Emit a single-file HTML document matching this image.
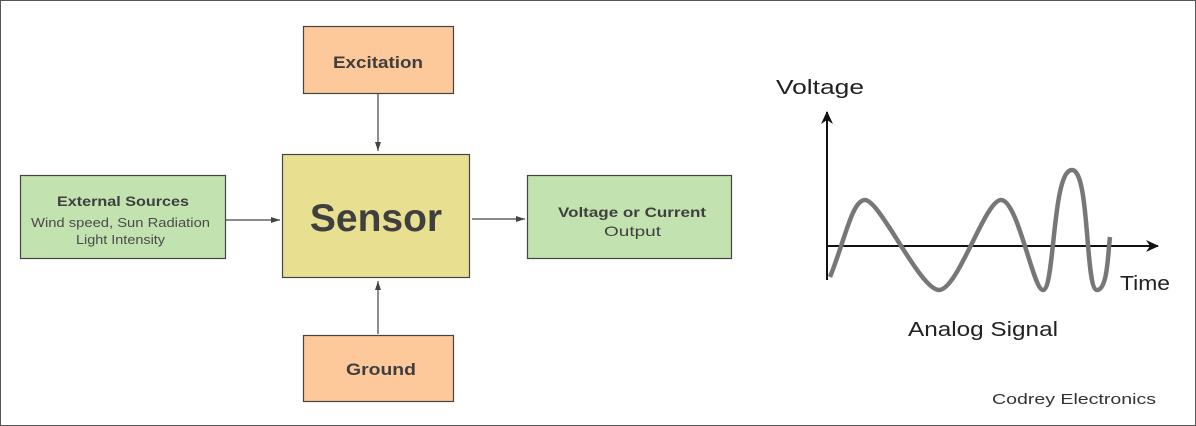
<!DOCTYPE html>
<html><head><style>
html,body{margin:0;padding:0;background:#fff}
svg{display:block}
text{font-family:"Liberation Sans",sans-serif;fill:#3f3f3f}
</style></head><body>
<svg width="1196" height="426" viewBox="0 0 1196 426">
<defs><marker id="a" markerWidth="10" markerHeight="8" refX="9" refY="4" orient="auto" markerUnits="userSpaceOnUse"><path d="M0,1 L9,4 L0,7 z" fill="#444"/></marker>
<marker id="b" markerWidth="14" markerHeight="14" refX="12" refY="7" orient="auto" markerUnits="userSpaceOnUse"><path d="M0,1 L13,7 L0,13 L4,7 z" fill="#111"/></marker></defs>
<rect x="0.5" y="0.5" width="1195" height="425" fill="#fff" stroke="#555"/>
<g stroke="#444" stroke-width="1.2">
<rect x="303.5" y="26.5" width="150" height="67" fill="#fdc99a"/>
<rect x="303.5" y="335.5" width="150" height="66" fill="#fdc99a"/>
<rect x="282.5" y="154.5" width="187" height="123" fill="#e8df91"/>
<rect x="20.5" y="175.5" width="205" height="83" fill="#c2e3b0"/>
<rect x="527.5" y="175.5" width="204" height="83" fill="#c2e3b0"/>
<line x1="378" y1="94" x2="378" y2="151" marker-end="url(#a)"/>
<line x1="378" y1="334" x2="378" y2="281" marker-end="url(#a)"/>
<line x1="226" y1="220" x2="280" y2="220" marker-end="url(#a)"/>
<line x1="472" y1="219" x2="525" y2="219" marker-end="url(#a)"/>
</g>
<text x="333" y="68" font-size="17" font-weight="bold" textLength="90" lengthAdjust="spacingAndGlyphs">Excitation</text>
<text x="346" y="375" font-size="17" font-weight="bold" textLength="70" lengthAdjust="spacingAndGlyphs">Ground</text>
<text x="376" y="231" font-size="39" font-weight="bold" text-anchor="middle">Sensor</text>
<text x="57" y="206" font-size="14" font-weight="bold" textLength="132" lengthAdjust="spacingAndGlyphs">External Sources</text>
<text x="31" y="227" font-size="13" textLength="179" lengthAdjust="spacingAndGlyphs" style="fill:#4a4a4a">Wind speed, Sun Radiation</text>
<text x="76" y="244" font-size="13" textLength="89" lengthAdjust="spacingAndGlyphs" style="fill:#4a4a4a">Light Intensity</text>
<text x="558" y="217" font-size="14" font-weight="bold" textLength="148" lengthAdjust="spacingAndGlyphs">Voltage or Current</text>
<text x="604" y="236" font-size="14" textLength="57" lengthAdjust="spacingAndGlyphs">Output</text>
<line x1="827" y1="280" x2="827" y2="112" stroke="#111" stroke-width="2" marker-end="url(#b)"/>
<line x1="827" y1="246" x2="1158" y2="246" stroke="#111" stroke-width="2" marker-end="url(#b)"/>
<path d="M830,277 C845,240 852,200 865,200 C880,200 920,290 939,290 C958,290 985,200 1001,200 C1018,200 1033,290 1043,290 C1055,290 1052,170 1072,170 C1090,170 1085,290 1097,290 C1108,290 1108,250 1110,237" fill="none" stroke="#777" stroke-width="4.5"/>
<text x="776" y="94" font-size="20" textLength="88" lengthAdjust="spacingAndGlyphs" style="fill:#222">Voltage</text>
<text x="1120" y="290" font-size="20" textLength="50" lengthAdjust="spacingAndGlyphs" style="fill:#222">Time</text>
<text x="908" y="336" font-size="20" textLength="150" lengthAdjust="spacingAndGlyphs" style="fill:#222">Analog Signal</text>
<text x="992" y="404" font-size="15" textLength="164" lengthAdjust="spacingAndGlyphs" style="fill:#333">Codrey Electronics</text>
</svg>
</body></html>
